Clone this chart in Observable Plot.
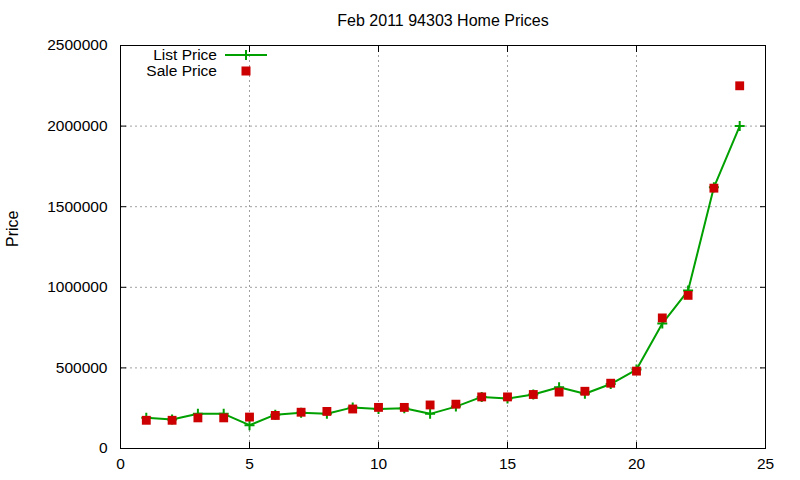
<!DOCTYPE html>
<html>
<head>
<meta charset="utf-8">
<script src="https://cdn.jsdelivr.net/npm/d3@7"></script>
<script src="https://cdn.jsdelivr.net/npm/@observablehq/plot@0.6"></script>
<style>
  html, body { margin: 0; padding: 0; background: #fff; }
  #wrap { position: relative; width: 800px; height: 480px; font-family: "Liberation Sans", Arial, sans-serif; }
  #legend { position: absolute; left: 0; top: 0; width: 800px; height: 100px; pointer-events: none; }
</style>
</head>
<body>
<div id="wrap"></div>
<script>
const title = "Feb 2011 94303 Home Prices";
const yLabel = "Price";
const seriesNames = ["List Price", "Sale Price"];
const xValues = [1,2,3,4,5,6,7,8,9,10,11,12,13,14,15,16,17,18,19,20,21,22,23,24];
const listPrice = [190000,180000,215000,215000,145000,210000,222000,215000,255000,245000,250000,215000,260000,320000,310000,335000,380000,340000,400000,490000,775000,980000,1620000,2000000];
const salePrice = [175000,175000,190000,190000,195000,205000,225000,230000,245000,255000,255000,270000,275000,320000,320000,335000,350000,355000,405000,480000,810000,950000,1615000,2250000];
const xTicks = [0,5,10,15,20,25];
const yTicks = [0,500000,1000000,1500000,2000000,2500000];

const green = "#00a000";
const red = "#cc0000";
const gridColor = "#a0a0a0";

const data = xValues.map((x, i) => ({x, list: listPrice[i], sale: salePrice[i]}));

const thinPlus = {
  draw(context, size) {
    const h = Math.sqrt(size / Math.PI);
    context.moveTo(-h, 0); context.lineTo(h, 0);
    context.moveTo(0, -h); context.lineTo(0, h);
  }
};

const inner = xTicks.slice(1, -1);
const innerY = yTicks.slice(1, -1);

const chart = Plot.plot({
  width: 800,
  height: 480,
  marginLeft: 120,
  marginRight: 35,
  marginTop: 45,
  marginBottom: 32,
  style: {fontFamily: '"Liberation Sans", Arial, sans-serif', fontSize: "15px", color: "#000", background: "#fff"},
  x: {domain: [0, 25]},
  y: {domain: [0, 2500000]},
  marks: [
    Plot.gridX(inner, {stroke: gridColor, strokeOpacity: 1, strokeDasharray: "2,3"}),
    Plot.gridY(innerY, {stroke: gridColor, strokeOpacity: 1, strokeDasharray: "2,3"}),
    Plot.axisX(xTicks, {anchor: "bottom", tickSize: 0, tickPadding: 9, tickFormat: d => String(d), label: null, fontSize: 15.5}),
    Plot.axisX(xTicks, {anchor: "bottom", tickSize: -6, tickFormat: () => "", label: null}),
    Plot.axisX(xTicks, {anchor: "top", tickSize: -6, tickFormat: () => "", label: null}),
    Plot.axisY(yTicks, {anchor: "left", tickSize: 0, tickPadding: 13, tickFormat: d => String(d), label: null, fontSize: 15.5}),
    Plot.axisY(yTicks, {anchor: "left", tickSize: -6, tickFormat: () => "", label: null}),
    Plot.axisY(yTicks, {anchor: "right", tickSize: -6, tickFormat: () => "", label: null}),
    Plot.frame({stroke: "#000", strokeWidth: 1}),
    Plot.text([title], {frameAnchor: "top", lineAnchor: "middle", dy: -25, fontSize: 16, fill: "#000"}),
    Plot.text([yLabel], {frameAnchor: "left", dx: -108, rotate: -90, fontSize: 16, fill: "#000"}),
    Plot.lineY(data, {x: "x", y: "list", stroke: green, strokeWidth: 2}),
    Plot.dot(data, {x: "x", y: "list", symbol: thinPlus, r: 5, stroke: green, strokeWidth: 2, fill: "none"}),
    Plot.dot(data, {x: "x", y: "sale", symbol: "square", r: 5, fill: red, stroke: "none"})
  ]
});

const wrap = document.getElementById("wrap");
wrap.appendChild(chart);

// Legend overlay (inside the plot frame, top-left)
const ns = "http://www.w3.org/2000/svg";
const leg = document.createElementNS(ns, "svg");
leg.setAttribute("id", "legend");
leg.setAttribute("width", 800);
leg.setAttribute("height", 100);
leg.style.fontFamily = '"Liberation Sans", Arial, sans-serif';
leg.style.fontSize = "15.5px";
const rows = [
  {name: seriesNames[0], y: 55, kind: "line"},
  {name: seriesNames[1], y: 71, kind: "square"}
];
rows.forEach(r => {
  const t = document.createElementNS(ns, "text");
  t.setAttribute("x", 217);
  t.setAttribute("y", r.y);
  t.setAttribute("dy", "0.35em");
  t.setAttribute("text-anchor", "end");
  t.textContent = r.name;
  leg.appendChild(t);
  if (r.kind === "line") {
    const l = document.createElementNS(ns, "path");
    l.setAttribute("d", `M225,${r.y}H267M246,${r.y - 5}V${r.y + 5}`);
    l.setAttribute("stroke", green);
    l.setAttribute("stroke-width", 2);
    l.setAttribute("fill", "none");
    leg.appendChild(l);
  } else {
    const s = document.createElementNS(ns, "rect");
    s.setAttribute("x", 241.5);
    s.setAttribute("y", r.y - 4.5);
    s.setAttribute("width", 9);
    s.setAttribute("height", 9);
    s.setAttribute("fill", red);
    leg.appendChild(s);
  }
});
wrap.appendChild(leg);
</script>
</body>
</html>
